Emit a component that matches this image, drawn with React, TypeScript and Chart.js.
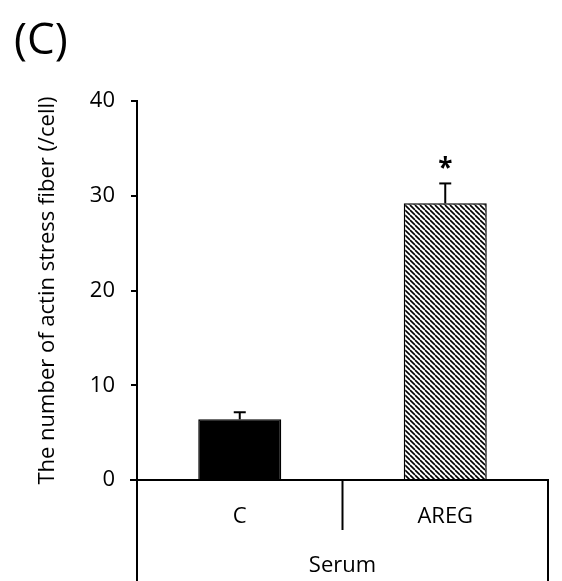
import React, { useEffect, useRef } from 'react';
import { Chart, registerables } from 'chart.js';

Chart.register(...registerables);

const panelLabel = '(C)';
const categories = ['C', 'AREG'];
const groupLabel = 'Serum';
const means = [6.4, 29.2];
const errors = [0.75, 2.1];
const significance = ['', '*'];
const yMin = 0;
const yMax = 40;
const yStep = 10;
const yTitle = 'The number of actin stress fiber (/cell)';

const W = 562;
const H = 581;
const FONT = "'Open Sans', sans-serif";

function makeHatch(): CanvasPattern | string {
  const s = 5;
  const c = document.createElement('canvas');
  c.width = s;
  c.height = s;
  const g = c.getContext('2d');
  if (!g) return '#888';
  g.fillStyle = '#fff';
  g.fillRect(0, 0, s, s);
  g.strokeStyle = '#000';
  g.lineWidth = 1.6;
  for (const o of [-s, 0, s]) {
    g.beginPath();
    g.moveTo(o, 0);
    g.lineTo(o + s, s);
    g.stroke();
  }
  return g.createPattern(c, 'repeat') || '#888';
}

const decor = {
  id: 'decor',
  afterDraw(chart: any) {
    const { ctx, chartArea, scales } = chart;
    const { left, right, bottom } = chartArea;
    const xs = scales.x;
    const ys = scales.y;
    const line = (x1: number, y1: number, x2: number, y2: number) => {
      ctx.beginPath();
      ctx.moveTo(x1, y1);
      ctx.lineTo(x2, y2);
      ctx.stroke();
    };
    ctx.save();
    ctx.strokeStyle = '#000';
    ctx.lineWidth = 2;
    line(left - 7, bottom, right + 1, bottom);
    line(left, bottom, left, H);
    line(right, bottom, right, H);
    const mid = (xs.getPixelForValue(0) + xs.getPixelForValue(1)) / 2;
    line(mid, bottom, mid, bottom + 50);

    means.forEach((m, i) => {
      const px = xs.getPixelForValue(i);
      const y0 = ys.getPixelForValue(m);
      const y1 = ys.getPixelForValue(m + errors[i]);
      line(px, y0, px, y1);
      line(px - 6, y1, px + 6, y1);
      if (significance[i]) {
        ctx.fillStyle = '#000';
        ctx.font = `bold 26px ${FONT}`;
        ctx.textAlign = 'center';
        ctx.textBaseline = 'alphabetic';
        ctx.fillText(significance[i], px, y1 - 6);
      }
    });

    ctx.fillStyle = '#000';
    ctx.textAlign = 'center';
    ctx.textBaseline = 'alphabetic';
    ctx.font = `22px ${FONT}`;
    categories.forEach((c, i) => {
      ctx.fillText(c, xs.getPixelForValue(i), bottom + 43);
    });
    ctx.fillText(groupLabel, mid, bottom + 92);

    ctx.textAlign = 'left';
    ctx.font = `44px ${FONT}`;
    ctx.fillText(panelLabel, 14, 54);
    ctx.restore();
  },
};

export default function App() {
  const ref = useRef<HTMLCanvasElement | null>(null);
  useEffect(() => {
    if (!ref.current) return;
    const hatch = makeHatch();
    const chart = new Chart(ref.current, {
      type: 'bar',
      data: {
        labels: categories,
        datasets: [
          {
            data: means,
            backgroundColor: ['#000', hatch] as any,
            borderColor: '#000',
            borderWidth: 1.5,
            barPercentage: 0.404,
            categoryPercentage: 1,
          },
        ],
      },
      options: {
        responsive: false,
        animation: false,
        layout: { padding: { top: 101, right: 14, bottom: 0, left: 0 } },
        plugins: { legend: { display: false }, tooltip: { enabled: false } },
        scales: {
          x: {
            type: 'category',
            ticks: { display: false },
            grid: { display: false },
            border: { display: false },
            afterFit: (s: any) => {
              s.height = 101;
            },
          },
          y: {
            min: yMin,
            max: yMax,
            ticks: {
              stepSize: yStep,
              color: '#000',
              padding: 16,
              font: { family: FONT, size: 22 },
            },
            grid: {
              drawOnChartArea: false,
              drawTicks: true,
              tickLength: 6,
              color: '#000',
              lineWidth: 2,
            },
            border: { display: true, color: '#000', width: 2 },
            title: {
              display: true,
              text: yTitle,
              color: '#000',
              font: { family: FONT, size: 22 },
              padding: { top: 35, bottom: 0 },
            },
            afterFit: (s: any) => {
              s.width = 137;
            },
          },
        },
      },
      plugins: [decor],
    });
    return () => chart.destroy();
  }, []);
  return (
    <div style={{ position: 'fixed', left: 0, top: 0, width: W, height: H, background: '#fff' }}>
      <canvas ref={ref} width={W} height={H} style={{ display: 'block' }} />
    </div>
  );
}
